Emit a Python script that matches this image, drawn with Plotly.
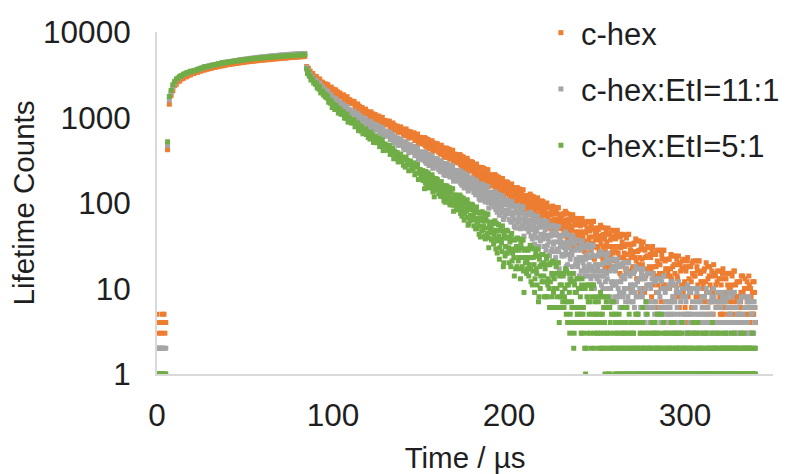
import plotly.graph_objects as go

# ---------------- data ----------------
SERIES_NAMES = ["c-hex", "c-hex:EtI=11:1", "c-hex:EtI=5:1"]
SERIES_COLORS = ["#ED7D31", "#A5A5A5", "#70AD47"]

# time bins (µs): background before the pulse, rise during the pulse, decay after it,
# plus the interleaved (+0.25 µs) decay bins of the later, noisier part of the curves
BG_START, BG_STEP = 0.0, 0.5
RISE_START, RISE_STEP = 6.0, 1.0
DECAY_START, DECAY_STEP = 85.0, 0.5
DECAY2_START, DECAY2_STEP = 150.25, 0.5

X_TICKS = [0, 100, 200, 300]
Y_TICKS = [1, 10, 100, 1000, 10000]
Y_TICK_TEXT = ["1", "10", "100", "1000", "10000"]

# ---- c-hex ----
hex_bg = [5, 4, 3, 2, 4, 3, 5, 4, 5, 3, 4]
hex_rise = [420,
    1430, 1800, 2050, 2360, 2450, 2630, 2680, 2830, 2870, 2990,
    3000, 3130, 3150, 3260, 3270, 3380, 3380, 3490, 3490, 3590,
    3590, 3690, 3680, 3780, 3770, 3860, 3850, 3940, 3930, 4020,
    4010, 4100, 4090, 4180, 4160, 4240, 4220, 4300, 4280, 4360,
    4340, 4420, 4400, 4480, 4460, 4530, 4510, 4580, 4560, 4620,
    4610, 4670, 4660, 4720, 4700, 4760, 4740, 4800, 4780, 4840,
    4830, 4890, 4870, 4920, 4900, 4970, 4950, 5010, 5000, 5050,
    5040, 5090, 5080, 5120, 5110, 5160, 5140, 5180]
hex_decay = [
    3945, 3615, 3770, 3455, 3490, 3160, 3230, 3270, 2990, 3040, 2922, 3016, 2718, 2826, 2664, 2810, 2480, 2584, 2590, 2410, 2482,
    2332, 2460, 2311, 2425, 2142, 2256, 2139, 2267, 1975, 2148,
    2085, 1914, 2108, 1925, 2001, 1782, 1870, 1934, 1744, 1809, 1736, 1841, 1611, 1727, 1608, 1748, 1487, 1592, 1614, 1471,
    1456, 1554, 1450, 1538, 1334, 1423, 1341, 1441, 1228, 1358, 1288, 1207, 1309, 1138, 1230, 1171, 1254, 1115, 1177, 1049,
    1132, 1013, 1166, 1039, 1105, 950, 1025, 1082, 947, 1005, 957, 1042, 881, 974, 892, 1004, 816, 902, 926, 826,
    821, 905, 832, 908, 759, 834, 779, 863, 706, 814, 766, 710, 795, 670, 747, 707, 776, 675, 729, 635,
    703, 612, 735, 637, 692, 574, 636, 683, 580, 628, 593, 662, 538, 614, 551, 641, 496, 565, 587, 510,
    508, 576, 521, 583, 465, 528, 484, 554, 430, 518, 481, 439, 507, 409, 472, 442, 499, 419, 465, 392,
    447, 375, 474, 397, 442, 349, 399, 438, 356, 396, 369, 425, 326, 388, 339, 412, 298, 354, 372, 312,
    311, 364, 321, 369, 279, 326, 294, 346, 251, 319, 291, 258, 312, 236, 285, 261, 305, 244, 278, 221,
    264, 210, 286, 228, 262, 192, 230, 261, 199, 228, 209, 252, 177, 225, 188, 244, 157, 200, 214, 169,
    169, 209, 178, 215, 147, 185, 160, 201, 130, 182, 161, 137, 179, 122, 159, 143, 177, 132, 158, 117,
    149, 110, 167, 125, 151, 99, 128, 151, 105, 128, 114, 146, 91, 127, 101, 142, 78, 111, 122, 89,
    90, 121, 98, 127, 76, 105, 88, 118, 66, 106, 91, 73, 104, 63, 91, 80, 106, 72, 92, 61,
    86, 57, 100, 69, 89, 51, 73, 90, 57, 75, 64, 89, 49, 75, 56, 88, 41, 65, 74, 50,
    51, 75, 57, 80, 41, 63, 50, 74, 34, 64, 53, 39, 64, 32, 55, 46, 66, 41, 57, 33,
    54, 30, 66, 40, 57, 27, 45, 60, 33, 48, 40, 60, 28, 50, 34, 61, 22, 43, 51, 30,
    31, 51, 37, 55, 24, 42, 31, 51, 18, 43, 35, 25, 44, 19, 37, 31, 48, 26, 40, 21,
    38, 18, 48, 26, 41, 15, 30, 43, 19, 32, 26, 42, 15, 33, 21, 43, 10, 28, 33, 17,
    18, 34, 23, 38, 13, 27, 19, 36, 9, 29, 22, 13, 29, 9, 23, 17, 31, 15, 24, 11,
    23, 8, 31, 15, 25, 6, 18, 28, 11, 19, 15, 28, 7, 22, 11, 28, 4, 17, 22, 10,
    10, 22, 14, 25, 7, 18, 11, 24, 4, 19, 14, 8, 20, 4, 16, 11, 21, 9, 17, 6,
    16, 4, 23, 10, 18, 4, 12, 20, 6, 14, 10, 21, 4, 16, 8, 21, 4, 12, 16, 6,
    6, 17, 10, 20, 4, 13, 7, 18, 4, 14, 10, 5, 15, 4, 11, 7, 16, 6, 13, 5,
    11, 5, 17, 7, 13, 4, 8, 15, 5, 10, 7, 15, 4, 11, 6, 16, 3, 8, 12, 5,
    6, 12, 7, 14, 4, 9, 6, 13, 4, 10, 7, 5, 11, 4, 8, 6, 12, 5, 9, 4]
hex_decay2 = [
    542, 573, 487, 536, 499, 568, 450, 525, 501, 458, 527, 466, 535, 406, 493, 420, 471, 422, 492, 431,
    460, 410, 466, 372, 411, 378, 434, 341, 408, 437, 360, 388, 333, 407, 357, 414, 322, 372, 335, 348,
    337, 361, 294, 333, 305, 357, 267, 324, 306, 273, 327, 279, 333, 233, 301, 244, 283, 246, 299, 252,
    274, 236, 280, 208, 239, 214, 257, 186, 238, 260, 202, 223, 183, 238, 202, 245, 175, 214, 186, 195,
    188, 208, 158, 187, 167, 207, 140, 184, 171, 147, 188, 153, 194, 120, 171, 129, 160, 133, 174, 139,
    157, 130, 162, 110, 133, 115, 148, 96, 134, 151, 109, 125, 95, 137, 111, 143, 91, 120, 101, 108,
    104, 119, 82, 105, 91, 121, 72, 106, 96, 78, 110, 85, 115, 60, 100, 69, 92, 72, 104, 77,
    92, 72, 96, 59, 76, 63, 88, 50, 79, 92, 61, 74, 52, 83, 64, 88, 51, 73, 58, 64,
    62, 73, 45, 63, 52, 76, 38, 64, 57, 44, 68, 48, 73, 30, 61, 38, 56, 41, 66, 46,
    58, 41, 62, 32, 46, 36, 56, 26, 51, 61, 36, 47, 30, 56, 40, 61, 31, 49, 37, 43,
    40, 49, 27, 41, 33, 52, 22, 43, 38, 27, 47, 31, 51, 17, 43, 24, 39, 27, 47, 31,
    41, 27, 45, 19, 31, 23, 40, 14, 35, 43, 23, 31, 17, 39, 25, 43, 16, 32, 23, 27,
    25, 33, 16, 27, 21, 36, 13, 28, 23, 17, 32, 19, 35, 10, 28, 14, 24, 15, 30, 18,
    25, 16, 28, 11, 18, 14, 25, 9, 21, 28, 14, 19, 10, 25, 15, 28, 11, 21, 14, 17,
    15, 22, 10, 17, 13, 24, 8, 19, 15, 11, 22, 13, 24, 6, 19, 9, 17, 10, 22, 12,
    18, 11, 21, 8, 13, 9, 18, 6, 15, 21, 10, 14, 8, 18, 11, 21, 8, 15, 10, 12,
    11, 16, 7, 12, 9, 18, 5, 14, 11, 7, 16, 9, 19, 4, 14, 6, 12, 7, 16, 8,
    13, 7, 15, 5, 9, 6, 13, 4, 11, 15, 6, 10, 5, 14, 7, 16, 5, 11, 7, 8,
    8, 12, 5, 9, 6, 14, 4, 10, 8, 5, 12, 6, 14, 3, 10, 5, 9, 5, 12, 6]

# ---- c-hex:EtI=11:1 ----
eti11_bg = [2, 2, 1, 2, 2, 1, 2, 2, 2, 1, 2]
eti11_rise = [470,
    1600, 1960, 2260, 2520, 2760, 2870, 3000, 3070, 3170, 3220,
    3310, 3370, 3440, 3460, 3530, 3570, 3640, 3680, 3750, 3800,
    3890, 3900, 3970, 4010, 4070, 4100, 4160, 4200, 4250, 4280,
    4350, 4380, 4430, 4450, 4500, 4520, 4570, 4590, 4640, 4660,
    4710, 4730, 4780, 4800, 4840, 4870, 4910, 4930, 4970, 4990,
    5030, 5050, 5090, 5100, 5140, 5160, 5190, 5210, 5240, 5260,
    5290, 5310, 5340, 5360, 5380, 5400, 5430, 5440, 5470, 5480,
    5500, 5520, 5540, 5550, 5570, 5590, 5600, 5620]
eti11_decay = [
    3842, 3394, 3490, 3178, 3194, 2870, 2930, 2962, 2696, 2738, 2622, 2716, 2418, 2536, 2364, 2510, 2170, 2274, 2280, 2080, 2142,
    1989, 2083, 1938, 2022, 1760, 1847, 1731, 1832, 1562, 1700,
    1643, 1490, 1661, 1499, 1566, 1374, 1452, 1510, 1341, 1400, 1334, 1426, 1226, 1328, 1222, 1346, 1117, 1210, 1232, 1108,
    1098, 1188, 1100, 1182, 1006, 1088, 1018, 1110, 925, 1044, 985, 917, 1009, 862, 946, 896, 971, 851, 910, 798,
    871, 767, 902, 790, 848, 714, 780, 831, 712, 763, 722, 796, 655, 738, 666, 764, 601, 676, 698, 611,
    608, 677, 615, 679, 551, 616, 567, 638, 504, 595, 554, 506, 578, 471, 536, 502, 561, 474, 519, 439,
    495, 420, 522, 441, 486, 388, 439, 479, 393, 432, 404, 460, 357, 420, 369, 443, 324, 381, 399, 336,
    335, 390, 346, 396, 302, 352, 318, 373, 274, 345, 315, 281, 337, 258, 309, 285, 331, 268, 304, 245,
    289, 233, 313, 253, 288, 215, 255, 287, 223, 254, 233, 279, 201, 251, 212, 271, 180, 225, 240, 193,
    193, 236, 202, 241, 170, 208, 183, 225, 150, 204, 183, 157, 200, 141, 180, 162, 197, 150, 177, 133,
    167, 125, 185, 140, 167, 112, 142, 166, 118, 142, 126, 161, 103, 140, 111, 155, 87, 121, 134, 98,
    99, 131, 107, 136, 84, 112, 95, 126, 72, 112, 96, 78, 110, 67, 96, 83, 109, 75, 96, 64,
    90, 60, 104, 72, 92, 53, 76, 93, 59, 77, 66, 92, 50, 78, 57, 90, 41, 66, 75, 50,
    51, 74, 57, 78, 41, 62, 49, 72, 33, 62, 51, 39, 62, 31, 52, 43, 63, 38, 54, 31,
    49, 28, 61, 38, 53, 24, 41, 54, 29, 43, 35, 54, 23, 43, 29, 53, 17, 36, 42, 24,
    25, 42, 30, 46, 18, 34, 25, 42, 13, 35, 27, 18, 35, 12, 28, 22, 37, 18, 30, 14,
    28, 16, 36, 20, 30, 14, 22, 31, 16, 23, 19, 32, 13, 25, 16, 32, 10, 19, 24, 13,
    14, 25, 16, 27, 11, 19, 14, 25, 8, 20, 15, 10, 21, 8, 16, 12, 22, 11, 18, 8,
    16, 7, 22, 10, 18, 6, 12, 19, 8, 13, 10, 20, 6, 15, 8, 20, 4, 11, 15, 7,
    7, 16, 9, 18, 5, 12, 8, 17, 4, 13, 9, 6, 14, 4, 10, 7, 15, 6, 11, 4,
    10, 4, 15, 6, 12, 3, 7, 13, 5, 9, 6, 13, 4, 10, 5, 14, 3, 7, 10, 5,
    5, 11, 6, 12, 3, 8, 5, 11, 3, 9, 6, 4, 9, 3, 7, 5, 10, 4, 8, 3,
    7, 3, 11, 5, 9, 3, 5, 10, 3, 6, 5, 10, 3, 7, 4, 10, 3, 5, 8, 4,
    4, 8, 5, 10, 3, 6, 4, 9, 2, 7, 5, 3, 8, 3, 6, 4, 9, 4, 7, 3,
    6, 2, 9, 4, 7, 2, 4, 8, 3, 5, 4, 9, 2, 6, 3, 9, 2, 4, 6, 3,
    3, 7, 4, 8, 2, 5, 3, 8, 2, 6, 4, 3, 7, 2, 5, 3, 7, 3, 6, 2]
eti11_decay2 = [
    362, 387, 318, 358, 329, 384, 290, 350, 331, 297, 352, 303, 359, 255, 326, 267, 308, 269, 326, 277,
    300, 261, 306, 232, 264, 238, 283, 210, 263, 287, 226, 250, 207, 266, 228, 273, 200, 241, 211, 221,
    213, 233, 180, 212, 190, 232, 161, 207, 193, 167, 211, 173, 216, 138, 192, 148, 179, 151, 193, 157,
    175, 146, 179, 125, 148, 129, 163, 108, 149, 166, 121, 139, 107, 151, 122, 156, 101, 132, 110, 119,
    114, 129, 90, 115, 99, 130, 78, 113, 103, 85, 117, 89, 122, 64, 105, 72, 96, 76, 107, 81,
    95, 75, 99, 60, 78, 65, 90, 51, 80, 94, 61, 75, 52, 85, 65, 90, 51, 74, 58, 64,
    62, 73, 46, 63, 52, 75, 38, 63, 56, 43, 66, 47, 70, 29, 58, 36, 53, 38, 62, 43,
    54, 40, 58, 32, 42, 35, 52, 27, 45, 55, 33, 42, 27, 49, 35, 53, 27, 41, 31, 35,
    32, 41, 24, 34, 27, 43, 19, 35, 30, 22, 38, 25, 41, 15, 33, 19, 29, 20, 36, 23,
    30, 21, 34, 16, 23, 18, 30, 14, 25, 33, 17, 23, 14, 29, 18, 32, 14, 24, 16, 19,
    17, 24, 12, 19, 14, 26, 10, 20, 16, 12, 23, 13, 26, 7, 20, 10, 17, 11, 22, 12,
    18, 11, 20, 8, 12, 9, 18, 6, 14, 20, 9, 13, 7, 17, 10, 20, 7, 14, 9, 11,
    10, 15, 6, 11, 8, 17, 5, 13, 10, 6, 15, 8, 17, 3, 13, 5, 11, 6, 15, 7,
    11, 6, 13, 4, 7, 5, 12, 3, 9, 13, 5, 8, 4, 12, 6, 14, 4, 9, 6, 7,
    6, 10, 4, 7, 5, 12, 3, 8, 7, 4, 10, 5, 12, 3, 9, 4, 8, 4, 10, 5,
    8, 5, 10, 3, 5, 4, 9, 3, 7, 10, 4, 6, 3, 9, 5, 10, 3, 7, 4, 6,
    5, 8, 3, 6, 4, 9, 3, 7, 5, 3, 8, 4, 10, 2, 7, 3, 6, 4, 9, 4,
    7, 4, 8, 2, 4, 3, 7, 2, 6, 9, 3, 5, 2, 8, 4, 9, 3, 6, 4, 5,
    4, 7, 3, 5, 3, 8, 2, 6, 4, 3, 7, 3, 8, 2, 6, 3, 5, 3, 7, 4]

# ---- c-hex:EtI=5:1 ----
eti5_bg = [1, 1, 1, 1, 1, 1, 1, 1, 1, 1, 1]
eti5_rise = [520,
    1760, 2080, 2420, 2630, 2820, 2900, 3040, 3090, 3210, 3240,
    3350, 3380, 3480, 3440, 3540, 3560, 3660, 3690, 3780, 3800,
    3930, 3890, 3980, 3990, 4080, 4080, 4160, 4160, 4240, 4240,
    4360, 4350, 4420, 4400, 4480, 4480, 4530, 4540, 4600, 4600,
    4690, 4660, 4730, 4720, 4780, 4780, 4850, 4830, 4890, 4900,
    4950, 4920, 4990, 5000, 5020, 5040, 5070, 5060, 5100, 5110,
    5150, 5140, 5180, 5190, 5220, 5210, 5250, 5240, 5290, 5280,
    5320, 5310, 5350, 5340, 5380, 5380, 5410, 5420]
eti5_decay = [
    3692, 3274, 3360, 3048, 3064, 2740, 2790, 2812, 2536, 2568, 2442, 2526, 2218, 2326, 2144, 2280, 1940, 2034, 2030, 1840, 1902,
    1747, 1833, 1689, 1766, 1510, 1590, 1474, 1569, 1307, 1438,
    1380, 1240, 1393, 1244, 1303, 1128, 1197, 1248, 1094, 1146, 1085, 1167, 985, 1077, 980, 1092, 884, 967, 986, 873,
    864, 942, 863, 934, 778, 848, 787, 866, 703, 806, 754, 693, 774, 644, 717, 672, 738, 633, 683, 585,
    649, 559, 672, 577, 625, 511, 566, 608, 507, 550, 514, 577, 457, 526, 466, 548, 410, 473, 491, 417,
    415, 472, 422, 473, 369, 420, 381, 439, 329, 404, 370, 331, 389, 302, 356, 327, 375, 305, 343, 277,
    323, 263, 344, 279, 315, 238, 278, 309, 241, 273, 250, 295, 214, 263, 223, 282, 188, 233, 247, 197,
    197, 239, 205, 147, 172, 209, 184, 225, 150, 204, 181, 155, 198, 138, 118, 158, 193, 145, 173, 128,
    162, 120, 178, 134, 160, 106, 136, 159, 112, 134, 120, 152, 95, 132, 103, 146, 80, 113, 124, 90,
    91, 120, 97, 124, 75, 102, 84, 114, 63, 100, 85, 68, 98, 57, 84, 72, 97, 64, 83, 54,
    77, 50, 90, 60, 78, 43, 63, 78, 47, 63, 53, 76, 38, 63, 44, 74, 30, 52, 60, 37,
    38, 58, 43, 62, 29, 47, 36, 56, 22, 48, 38, 27, 47, 20, 39, 31, 48, 26, 40, 20,
    35, 18, 44, 26, 37, 14, 28, 38, 18, 29, 23, 38, 13, 30, 18, 37, 9, 23, 29, 15,
    17, 29, 19, 32, 12, 23, 16, 29, 9, 24, 17, 11, 24, 8, 18, 14, 25, 12, 20, 8,
    17, 8, 24, 11, 19, 6, 12, 20, 8, 14, 10, 20, 6, 15, 8, 20, 4, 11, 15, 6,
    7, 15, 8, 17, 5, 11, 7, 15, 3, 12, 7, 4, 12, 3, 9, 6, 13, 5, 10, 4,
    8, 3, 13, 5, 10, 2, 1, 11, 3, 7, 5, 11, 2, 8, 4, 11, 2, 5, 8, 3,
    3, 8, 4, 9, 2, 5, 3, 8, 1, 6, 3, 2, 6, 1, 4, 3, 7, 2, 5, 1,
    4, 2, 3, 1, 5, 2, 1, 3, 2, 4, 3, 1, 2, 6, 1, 3, 2, 1, 4, 2,
    3, 1, 2, 5, 1, 2, 4, 1, 3, 2, 1, 6, 2, 1, 3, 2, 5, 1, 2, 3,
    2, 1, 3, 1, 2, 4, 1, 2, 3, 1, 2, 1, 5, 2, 1, 3, 1, 2, 1, 2,
    1, 2, 3, 1, 2, 1, 4, 1, 2, 3, 1, 2, 1, 2, 1, 3, 2, 1, 2, 1,
    2, 1, 3, 1, 2, 1, 1, 2, 4, 1, 2, 1, 3, 1, 2, 1, 2, 1, 3, 1,
    1, 2, 1, 3, 1, 2, 1, 1, 2, 1, 4, 1, 2, 1, 2, 3, 1, 1, 2, 1,
    2, 1, 1, 2, 1, 3, 1, 2, 1, 1, 2, 1, 2, 1, 1, 3, 2, 1, 1, 2,
    1, 2, 1, 1, 2, 1, 3, 1, 2, 1, 1, 2, 1, 1, 2, 1, 1, 2, 1, 1]
eti5_decay2 = [
    218, 237, 183, 215, 192, 234, 162, 208, 194, 167, 210, 172, 214, 135, 189, 144, 176, 147, 189, 152,
    169, 140, 174, 119, 142, 123, 156, 102, 142, 158, 114, 130, 100, 142, 114, 147, 94, 124, 103, 110,
    105, 119, 83, 104, 89, 118, 70, 102, 93, 75, 104, 80, 109, 55, 93, 62, 85, 65, 95, 69,
    82, 63, 86, 50, 66, 54, 76, 40, 67, 79, 49, 61, 41, 70, 51, 74, 39, 59, 45, 51,
    48, 57, 33, 48, 38, 58, 26, 48, 41, 30, 50, 34, 54, 18, 44, 24, 39, 26, 47, 30,
    39, 28, 42, 21, 29, 23, 37, 17, 31, 39, 21, 28, 17, 34, 23, 37, 16, 28, 20, 23,
    21, 28, 14, 23, 17, 30, 11, 23, 19, 13, 26, 15, 29, 7, 22, 10, 19, 12, 25, 14,
    19, 12, 22, 8, 13, 10, 19, 6, 15, 21, 9, 13, 6, 18, 10, 20, 6, 14, 8, 11,
    9, 14, 6, 10, 7, 16, 4, 11, 9, 5, 13, 6, 15, 2, 11, 4, 9, 5, 13, 6,
    10, 5, 11, 3, 6, 4, 10, 2, 8, 11, 4, 7, 3, 10, 5, 11, 3, 7, 4, 5,
    4, 7, 2, 5, 3, 8, 2, 6, 4, 2, 7, 3, 8, 1, 6, 2, 5, 2, 7, 3,
    2, 5, 1, 3, 2, 4, 1, 2, 6, 3, 1, 2, 4, 1, 3, 2, 5, 1, 2, 3,
    1, 3, 2, 4, 1, 2, 5, 1, 2, 3, 1, 4, 2, 1, 2, 7, 1, 3, 1, 2,
    2, 1, 4, 1, 3, 2, 1, 2, 5, 1, 2, 3, 1, 2, 1, 4, 1, 2, 3, 1,
    3, 1, 2, 1, 4, 2, 1, 3, 1, 2, 1, 2, 3, 1, 2, 1, 4, 1, 2, 1,
    1, 2, 1, 3, 1, 2, 1, 2, 1, 3, 1, 1, 2, 1, 4, 2, 1, 1, 2, 1,
    2, 1, 3, 1, 1, 2, 1, 2, 1, 1, 3, 1, 2, 1, 2, 1, 1, 2, 1, 3,
    1, 1, 2, 1, 3, 1, 2, 1, 1, 2, 1, 1, 3, 2, 1, 1, 2, 1, 2, 1,
    2, 1, 1, 3, 1, 2, 1, 1, 2, 1, 2, 1, 1, 2, 1, 1, 3, 1, 1, 2]

SERIES_DATA = [
    (hex_bg, hex_rise, hex_decay, hex_decay2),
    (eti11_bg, eti11_rise, eti11_decay, eti11_decay2),
    (eti5_bg, eti5_rise, eti5_decay, eti5_decay2),
]


def bins(start, step, n):
    return [start + step * i for i in range(n)]


FONT = "Liberation Sans, Arial, sans-serif"
TEXT = "#1f1f1f"

# figure / plot-area geometry in pixels
FIG_W, FIG_H = 785, 474
M_L, M_R, M_T, M_B = 157, 0, 32, 100
PLOT_RIGHT = 778                      # right end of the x axis line
PAPER_W = FIG_W - M_L - M_R
PAPER_H = FIG_H - M_T - M_B

fig = go.Figure()
for i, (name, color, (bg, rise, decay, decay2)) in enumerate(zip(SERIES_NAMES, SERIES_COLORS, SERIES_DATA)):
    x = (bins(BG_START, BG_STEP, len(bg)) + bins(RISE_START, RISE_STEP, len(rise))
         + bins(DECAY_START, DECAY_STEP, len(decay)) + bins(DECAY2_START, DECAY2_STEP, len(decay2)))
    y = list(bg) + list(rise) + list(decay) + list(decay2)
    fig.add_trace(go.Scatter(
        x=x, y=y, mode="markers", name=name, legendgroup=f"g{i}",
        marker=dict(color=color, size=5, symbol="square", line=dict(width=0)),
    ))

fig.update_layout(
    width=FIG_W, height=FIG_H,
    margin=dict(l=M_L, r=M_R, t=M_T, b=M_B),
    paper_bgcolor="white", plot_bgcolor="white",
    font=dict(family=FONT, size=29.5, color=TEXT),
    showlegend=True,
    legend=dict(
        xref="paper", yref="paper",
        x=(544 - M_L) / PAPER_W, y=(FIG_H - M_B - 6) / PAPER_H,
        xanchor="left", yanchor="top",
        font=dict(family=FONT, size=31, color=TEXT),
        bgcolor="rgba(255,255,255,0)", tracegroupgap=13,
        itemsizing="trace",
    ),
    xaxis=dict(
        domain=[0, (PLOT_RIGHT - M_L) / PAPER_W],
        range=[0, 350], tickvals=X_TICKS, ticktext=[str(v) for v in X_TICKS],
        showgrid=False, zeroline=False, showline=True, linecolor="#D9D9D9", linewidth=2,
        ticks="", ticklabelstandoff=12, automargin=True,
        tickfont=dict(family=FONT, size=31.5, color=TEXT),
        title=dict(text="Time / µs", font=dict(family=FONT, size=29.5, color=TEXT), standoff=16),
    ),
    yaxis=dict(
        type="log", range=[0, 4], tickvals=Y_TICKS, ticktext=Y_TICK_TEXT,
        showgrid=False, zeroline=False, showline=True, linecolor="#D9D9D9", linewidth=2,
        ticks="", ticklabelstandoff=18, automargin=False,
        tickfont=dict(family=FONT, size=31.5, color=TEXT),
        title=dict(text="Lifetime Counts", font=dict(family=FONT, size=29.5, color=TEXT), standoff=0),
    ),
)

fig.write_html("out.html")
